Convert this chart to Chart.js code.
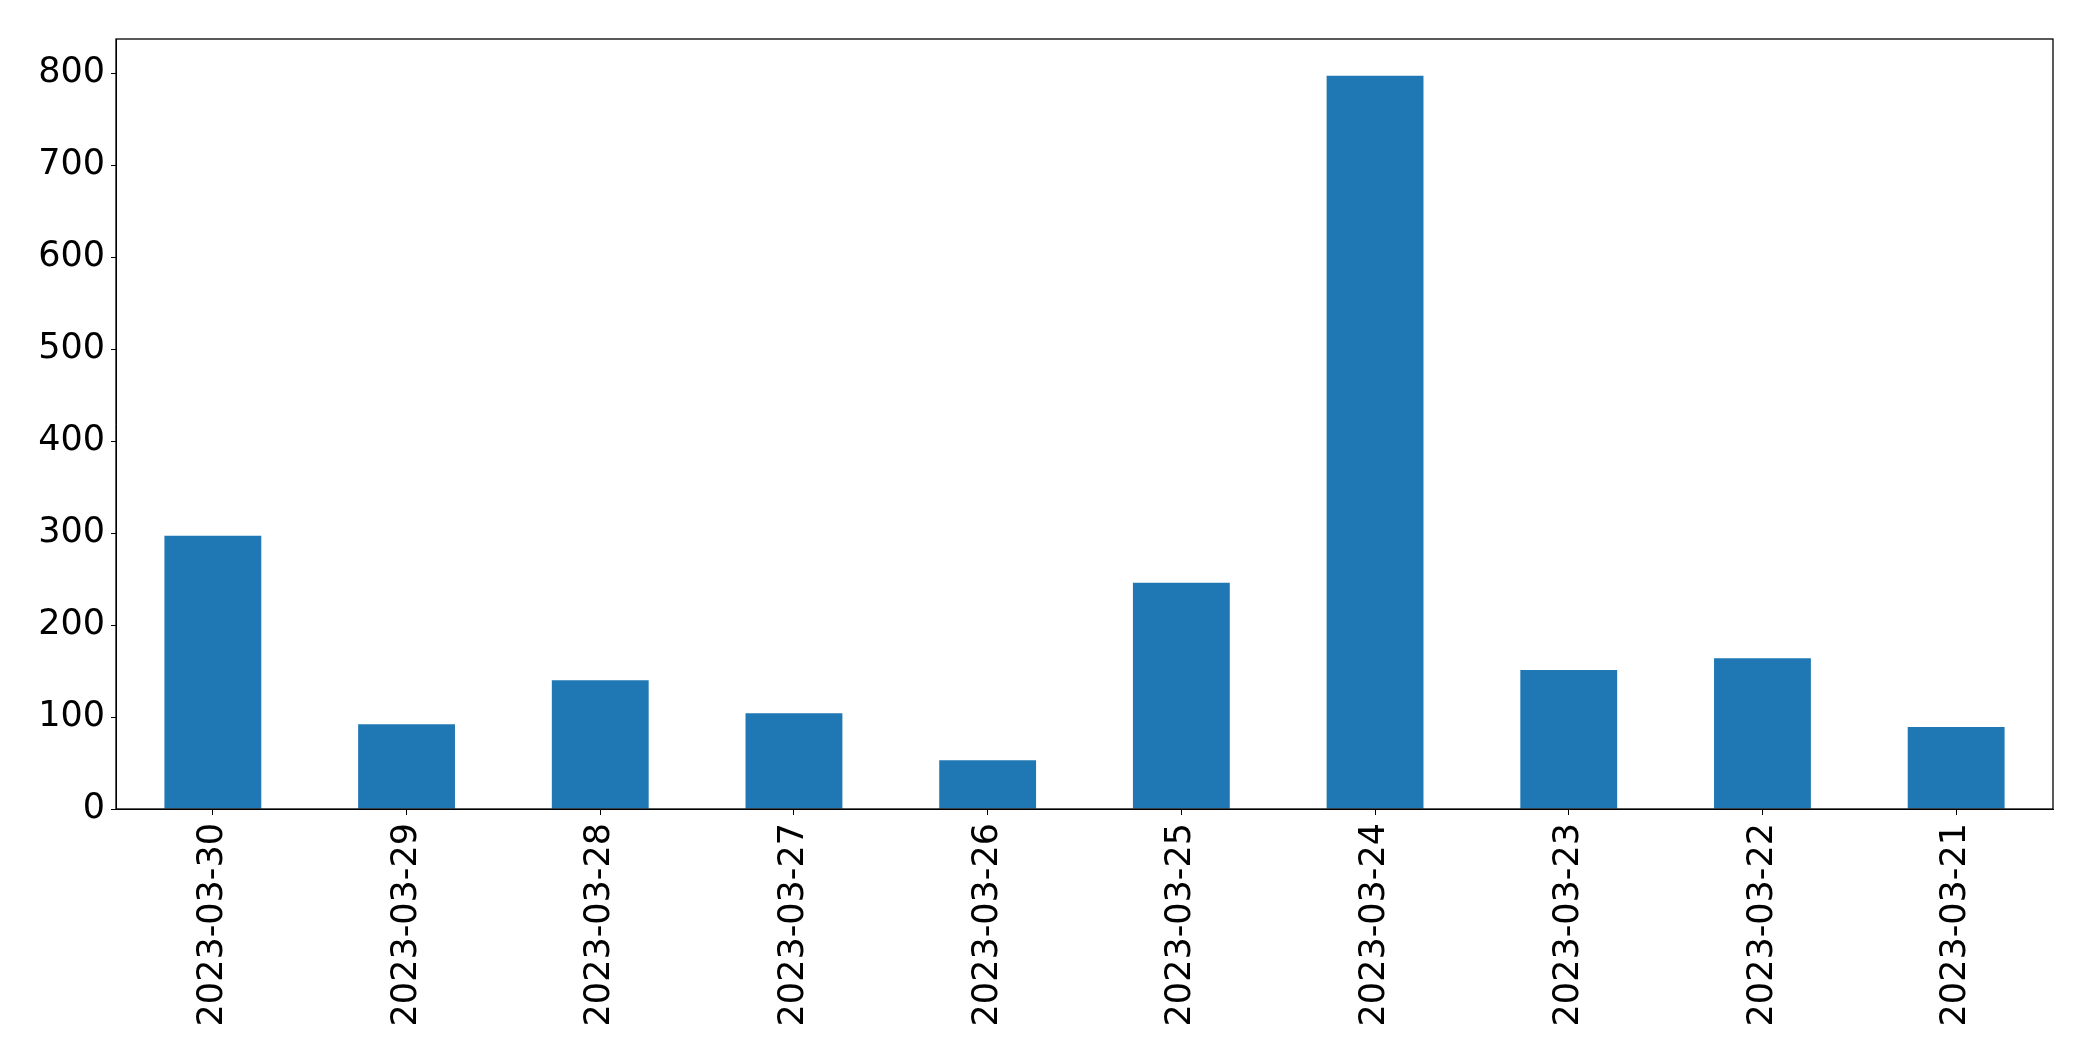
<!DOCTYPE html>
<html lang="en">
<head>
  <meta charset="UTF-8">
  <title>Bar chart</title>
  <style>
    html, body { margin: 0; padding: 0; background: #fff; }
    #wrap { width: 2093px; height: 1061px; }
  </style>
</head>
<body>
  <div id="wrap"><canvas id="myChart" width="2093" height="1061"></canvas></div>

  <script src="https://cdn.jsdelivr.net/npm/chart.js"></script>
  <script>
    // data
    const dates = ['2023-03-30', '2023-03-29', '2023-03-28', '2023-03-27', '2023-03-26',
                   '2023-03-25', '2023-03-24', '2023-03-23', '2023-03-22', '2023-03-21'];
    const counts = [297, 92, 140, 104, 53, 246, 797, 151, 164, 89];
    const yTicks = [0, 100, 200, 300, 400, 500, 600, 700, 800];

    const font = { family: 'DejaVu Sans', size: 35 };

    // box around the plot area (matplotlib style spines)
    const frame = {
      id: 'frame',
      afterDraw(chart) {
        const a = chart.chartArea;
        const c = chart.ctx;
        c.save();
        c.strokeStyle = '#000';
        c.lineWidth = 1.3;
        c.strokeRect(a.left, a.top, a.right - a.left, a.bottom - a.top);
        c.restore();
      }
    };

    const ctx = document.getElementById('myChart').getContext('2d');
    new Chart(ctx, {
      type: 'bar',
      data: {
        labels: dates,
        datasets: [{
          data: counts,
          backgroundColor: '#1f77b4',
          barPercentage: 0.5,
          categoryPercentage: 1.0
        }]
      },
      options: {
        responsive: false,
        animation: false,
        layout: { padding: { top: 39, right: 40, left: 0, bottom: 0 } },
        plugins: { legend: { display: false }, tooltip: { enabled: false } },
        scales: {
          x: {
            grid: { drawOnChartArea: false, offset: false, tickLength: 6, color: '#000' },
            border: { color: '#000' },
            ticks: { color: '#000', font: font, minRotation: 90, maxRotation: 90, padding: 8, autoSkip: false },
            afterFit(scale) { scale.height = 252; }
          },
          y: {
            min: 0,
            max: 837,
            grid: { drawOnChartArea: false, tickLength: 5, color: '#000' },
            border: { color: '#000' },
            afterBuildTicks(scale) { scale.ticks = yTicks.map(v => ({ value: v })); },
            ticks: { color: '#000', font: font, padding: 6 },
            afterFit(scale) { scale.width = 116; }
          }
        }
      },
      plugins: [frame]
    });
  </script>
</body>
</html>
